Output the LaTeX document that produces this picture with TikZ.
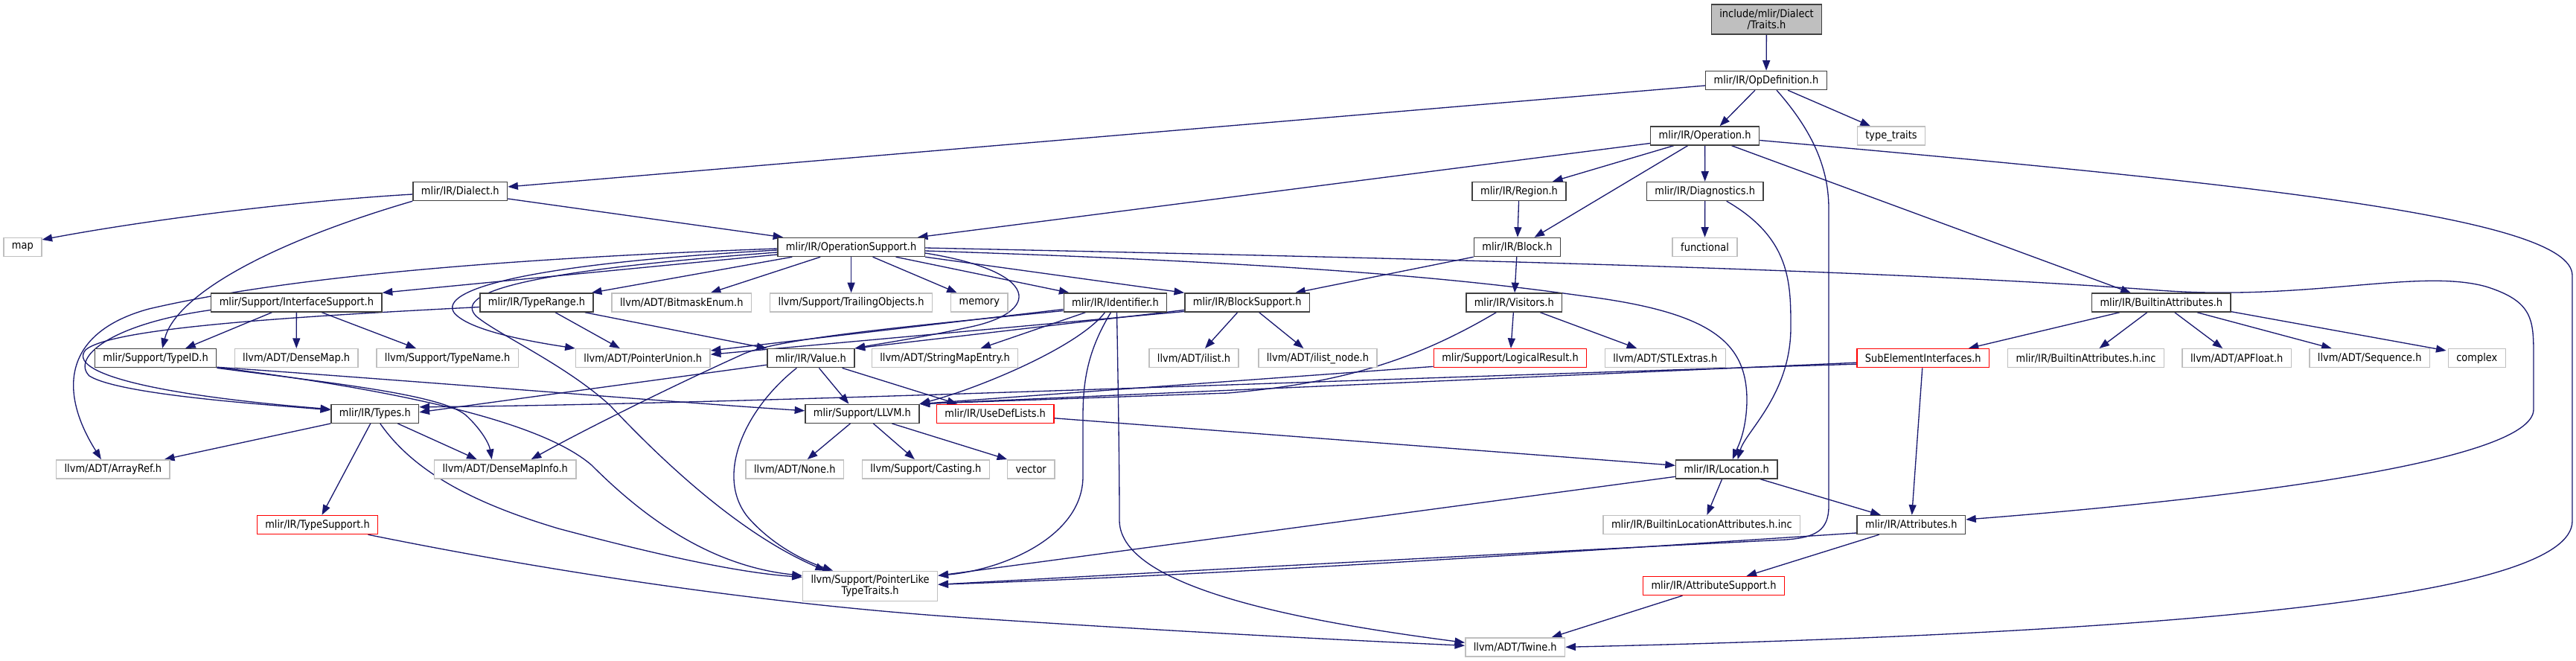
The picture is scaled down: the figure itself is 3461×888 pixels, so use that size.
\documentclass[tikz,border=0pt]{standalone}
\usepackage{fontspec}
\setmainfont{DejaVu Sans}[FakeStretch=0.89]
\usetikzlibrary{arrows.meta,calc}
\pgfdeclarelayer{bglayer}
\pgfdeclarelayer{edgelayer}
\pgfsetlayers{bglayer,edgelayer,main}
\definecolor{edgec}{HTML}{191970}
\definecolor{greyb}{HTML}{BFBFBF}
\definecolor{boxc}{HTML}{404040}
\definecolor{redc}{HTML}{FF0000}
\tikzset{
  x=0.25pt, y=-0.25pt,
  box/.style={draw=boxc, line width=0.35pt, fill=white, text=black, font=\fontsize{3.65pt}{3.83pt}\selectfont, inner xsep=2.75pt, inner ysep=0pt, minimum height=6.25pt},
  gbox/.style={box, draw=greyb},
  rbox/.style={box, draw=redc},
  tbox/.style={box, fill=greyb, align=center, minimum height=10pt},
  e/.style={draw=edgec, line width=0.33pt, -{Triangle[length=3.4pt,width=2.5pt]}},
}
\begin{document}
\begin{tikzpicture}
\useasboundingbox (0,0) rectangle (3461,888);
\begin{pgfonlayer}{bglayer}
\fill[white] (0,0) rectangle (3461,888);
\end{pgfonlayer}
% ---------- nodes ----------
\node[tbox] (traits) at (2373.5,26) {include/mlir/Dialect\\/Traits.h};
\node[box] (opdef) at (2373,108) {mlir/IR/OpDefinition.h};
\node[box] (op) at (2290.6,182.5) {mlir/IR/Operation.h};
\node[gbox] (typetraits) at (2541,182.5) {type\_traits};
\node[box] (dialect) at (618.3,257) {mlir/IR/Dialect.h};
\node[box] (region) at (2041,257) {mlir/IR/Region.h};
\node[box] (diag) at (2290.7,257) {mlir/IR/Diagnostics.h};
\node[gbox] (map) at (30.4,332) {map};
\node[box] (opsupport) at (1143.6,332) {mlir/IR/OperationSupport.h};
\node[box] (block) at (2038.5,332) {mlir/IR/Block.h};
\node[gbox] (functional) at (2290.5,332) {functional};
\node[box] (ifsupport) at (398.4,406.5) {mlir/Support/InterfaceSupport.h};
\node[box] (typerange) at (721,406.5) {mlir/IR/TypeRange.h};
\node[gbox] (bitmask) at (915.8,406.5) {llvm/ADT/BitmaskEnum.h};
\node[gbox] (trailing) at (1143.6,406.5) {llvm/Support/TrailingObjects.h};
\node[gbox] (memory) at (1315.8,406.5) {memory};
\node[box] (identifier) at (1498.5,406.5) {mlir/IR/Identifier.h};
\node[box] (blocksupport) at (1675.7,406.5) {mlir/IR/BlockSupport.h};
\node[box] (visitors) at (2034.3,406.5) {mlir/IR/Visitors.h};
\node[box] (builtinattr) at (2903.8,406.5) {mlir/IR/BuiltinAttributes.h};
\node[box] (typeid) at (209.1,481.2) {mlir/Support/TypeID.h};
\node[gbox] (densemap) at (398.2,481.2) {llvm/ADT/DenseMap.h};
\node[gbox] (typename) at (601.1,481.2) {llvm/Support/TypeName.h};
\node[gbox] (ptrunion) at (863.8,481.2) {llvm/ADT/PointerUnion.h};
\node[box] (value) at (1089.4,481.2) {mlir/IR/Value.h};
\node[gbox] (stringmap) at (1269.5,481.2) {llvm/ADT/StringMapEntry.h};
\node[gbox] (ilist) at (1604,481.2) {llvm/ADT/ilist.h};
\node[gbox] (ilistnode) at (1770.4,481.2) {llvm/ADT/ilist\_node.h};
\node[rbox] (logical) at (2029,481.2) {mlir/Support/LogicalResult.h};
\node[gbox] (stlextras) at (2237.3,481.2) {llvm/ADT/STLExtras.h};
\node[rbox] (subelem) at (2583.7,481.2) {SubElementInterfaces.h};
\node[gbox] (builtinattrinc) at (2802.5,481.2) {mlir/IR/BuiltinAttributes.h.inc};
\node[gbox] (apfloat) at (3005.2,481.2) {llvm/ADT/APFloat.h};
\node[gbox] (sequence) at (3183.7,481.2) {llvm/ADT/Sequence.h};
\node[gbox] (complex) at (3327.8,481.2) {complex};
\node[box] (types) at (503.8,555.8) {mlir/IR/Types.h};
\node[box] (llvmh) at (1158.4,555.8) {mlir/Support/LLVM.h};
\node[rbox] (usedef) at (1337.2,555.8) {mlir/IR/UseDefLists.h};
\node[gbox] (arrayref) at (151.9,630.3) {llvm/ADT/ArrayRef.h};
\node[gbox] (densemapinfo) at (678.7,630.3) {llvm/ADT/DenseMapInfo.h};
\node[gbox] (none) at (1067.8,630.3) {llvm/ADT/None.h};
\node[gbox] (casting) at (1243.9,630.3) {llvm/Support/Casting.h};
\node[gbox] (vector) at (1385.2,630.3) {vector};
\node[box] (location) at (2319.7,630.3) {mlir/IR/Location.h};
\node[gbox] (bltlocinc) at (2286.4,705) {mlir/IR/BuiltinLocationAttributes.h.inc};
\node[box] (attrs) at (2567.8,705) {mlir/IR/Attributes.h};
\node[rbox] (typesupport) at (426.5,705) {mlir/IR/TypeSupport.h};
\node[gbox, align=center, minimum height=10pt] (ptrlike) at (1169.1,787.3) {llvm/Support/PointerLike\\TypeTraits.h};
\node[rbox] (attrsupport) at (2302.5,787) {mlir/IR/AttributeSupport.h};
\node[gbox] (twine) at (2035.7,869.3) {llvm/ADT/Twine.h};
% ---------- edges ----------
\begin{pgfonlayer}{edgelayer}
\draw[e] (traits) -- (opdef);
\draw[e] ($(opdef.south)+(-15,0)$) -- ($(op.north)+(20,0)$);
\draw[e] ($(opdef.south)+(29,0)$) -- ($(typetraits.north)+(-28,0)$);
\draw[e] ($(opdef.west)+(0,7)$) -- ($(dialect.east)+(0,-6)$);
\draw[e] ($(opdef.south)+(14,0)$) .. controls (2430,170) and (2457,220) .. (2457,280) -- (2457,680) .. controls (2457,712) and (2440,722) .. (2400,725) .. controls (2000,745) and (1500,772) .. ($(ptrlike.east)+(0,-2)$);
\draw[e] ($(op.south)+(-42,0)$) -- ($(region.north)+(45,0)$);
\draw[e] (op) -- (diag);
\draw[e] ($(op.south)+(-23,0)$) -- ($(block.north)+(23,0)$);
\draw[e] ($(op.west)+(0,10)$) -- ($(opsupport.north east)+(-10,0)$);
\draw[e] ($(op.south)+(36,0)$) -- ($(builtinattr.north)+(-41,0)$);
\draw[e] ($(op.east)+(0,6)$) .. controls (3000,245) and (3456,290) .. (3456,370) -- (3456,700) .. controls (3456,800) and (2950,850) .. (twine.east);
\draw[e] ($(dialect.west)+(0,4)$) .. controls (400,270) and (200,295) .. ($(map.east)+(0,-10)$);
\draw[e] ($(dialect.east)+(0,10)$) -- ($(opsupport.north west)+(8,0)$);
\draw[e] (dialect.south west) .. controls (350,330) and (235,400) .. ($(typeid.north)+(9,0)$);
\draw[e] (region) -- (block);
\draw[e] (diag) -- (functional);
\draw[e] ($(diag.south)+(29,0)$) .. controls (2406,320) and (2406,380) .. (2406,440) .. controls (2406,530) and (2345,580) .. ($(location.north)+(15,0)$);
\draw[e] (block.south west) -- ($(blocksupport.north east)+(-20,0)$);
\draw[e] (block) -- (visitors);
\draw[e] ($(opsupport.west)+(0,10)$) -- (ifsupport.north east);
\draw[e] ($(opsupport.south west)+(20,0)$) -- ($(typerange.north east)+(-3,0)$);
\draw[e] ($(opsupport.south west)+(58,0)$) -- ($(bitmask.north)+(39,0)$);
\draw[e] (opsupport) -- (trailing);
\draw[e] ($(opsupport.south)+(29,0)$) -- ($(memory.north)+(-30,0)$);
\draw[e] ($(opsupport.south)+(60,0)$) -- ($(identifier.north)+(-62,0)$);
\draw[e] (opsupport.south east) -- (blocksupport.north west);
\draw[e] ($(opsupport.west)+(0,4)$) .. controls (700,355) and (590,390) .. (610,420) .. controls (630,445) and (720,460) .. (ptrunion.north west);
\draw[e] ($(opsupport.west)+(0,7)$) .. controls (690,365) and (610,395) .. (640,425) .. controls (670,450) and (760,490) .. (820,545) .. controls (900,630) and (1000,720) .. ($(ptrlike.north)+(-60,0)$);
\draw[e] ($(opsupport.west)+(0,2)$) .. controls (600,350) and (350,380) .. (200,415) .. controls (90,445) and (75,520) .. ($(arrayref.north)+(-16,0)$);
\draw[e] ($(opsupport.east)+(0,5)$) .. controls (1800,355) and (2000,380) .. (2130,398) .. controls (2300,420) and (2348,460) .. (2347,540) .. controls (2346,580) and (2335,600) .. ($(location.north)+(8,0)$);
\draw[e] ($(opsupport.east)+(0,1)$) .. controls (1800,345) and (2500,360) .. (2900,390) .. controls (3100,405) and (3250,360) .. (3340,385) .. controls (3404,405) and (3404,430) .. (3404,480) -- (3404,550) .. controls (3404,620) and (3000,670) .. ($(attrs.east)+(0,-7)$);
\draw[e] ($(opsupport.east)+(0,8)$) .. controls (1400,365) and (1400,420) .. (1300,440) .. controls (1230,455) and (1180,462) .. (value.north east);
\draw[e] ($(typerange.south)+(25,0)$) -- ($(ptrunion.north)+(-31,0)$);
\draw[e] ($(typerange.south east)+(-12,0)$) -- (value.north west);
\draw[e] ($(typerange.west)+(0,6)$) .. controls (400,425) and (150,440) .. (115,470) .. controls (90,500) and (200,530) .. ($(types.west)+(0,-6)$);
\draw[e] ($(ifsupport.west)+(0,10)$) .. controls (150,435) and (95,480) .. (120,505) .. controls (160,530) and (350,543) .. ($(types.west)+(0,-5)$);
\draw[e] ($(ifsupport.south)+(-33,0)$) -- ($(typeid.north)+(40,0)$);
\draw[e] (ifsupport) -- (densemap);
\draw[e] ($(ifsupport.south)+(34,0)$) -- ($(typename.north)+(-42,0)$);
\draw[e] ($(identifier.west)+(0,9)$) -- ($(ptrunion.north east)+(0,3)$);
\draw[e] ($(blocksupport.west)+(0,12)$) -- ($(ptrunion.east)+(0,-5)$);
\draw[e] ($(identifier.west)+(0,11)$) .. controls (1200,440) and (1050,455) .. (1000,475) .. controls (900,520) and (780,580) .. ($(densemapinfo.north)+(35,0)$);
\draw[e] ($(identifier.south)+(-40,0)$) -- ($(stringmap.north)+(48,0)$);
\draw[e] ($(identifier.south)+(-14,0)$) .. controls (1450,465) and (1320,520) .. (llvmh.north east);
\draw[e] ($(identifier.south)+(-6,0)$) .. controls (1462,470) and (1455,510) .. (1455,560) -- (1455,640) .. controls (1455,720) and (1350,765) .. ($(ptrlike.east)+(0,-14)$);
\draw[e] ($(identifier.south)+(2,0)$) .. controls (1502,500) and (1504,620) .. (1504,700) .. controls (1506,790) and (1750,835) .. ($(twine.west)+(0,-6)$);
\draw[e] ($(blocksupport.south)+(-13,0)$) -- ($(ilist.north)+(15,0)$);
\draw[e] ($(blocksupport.south)+(16,0)$) -- ($(ilistnode.north)+(-19,0)$);
\draw[e] ($(blocksupport.west)+(0,10)$) -- (value.north east);
\draw[e] (visitors) -- (logical);
\draw[e] ($(visitors.south)+(35,0)$) -- ($(stlextras.north)+(-38,0)$);
\draw[e] ($(visitors.south)+(-24,0)$) .. controls (1900,485) and (1800,515) .. (1650,528) -- (llvmh.north east);
\draw[e] ($(logical.south west)+(0,-2)$) -- (llvmh.north east);
\draw[e] ($(subelem.west)+(0,6)$) -- (llvmh.north east);
\draw[e] ($(subelem.west)+(0,8)$) .. controls (1800,510) and (1000,543) .. ($(types.east)+(0,-9)$);
\draw[e] (subelem) -- (attrs);
\draw[e] ($(value.west)+(0,9)$) -- ($(types.east)+(0,-2)$);
\draw[e] ($(value.south)+(11,0)$) -- ($(llvmh.north)+(-18,0)$);
\draw[e] ($(value.south east)+(-17,0)$) -- ($(usedef.north)+(-51,0)$);
\draw[e] ($(value.south)+(-19,0)$) .. controls (1000,550) and (960,640) .. (1005,695) .. controls (1040,735) and (1085,755) .. ($(ptrlike.north)+(-50,0)$);
\draw[e] ($(typeid.east)+(0,12)$) .. controls (600,515) and (900,540) .. ($(llvmh.west)+(0,-4)$);
\draw[e] (typeid.south east) .. controls (450,515) and (590,530) .. (625,557) .. controls (645,575) and (657,595) .. ($(densemapinfo.north)+(-18,0)$);
\draw[e] ($(typeid.south east)+(0,-1)$) .. controls (500,520) and (720,560) .. (795,625) .. controls (860,690) and (950,760) .. ($(ptrlike.west)+(0,-14)$);
\draw[e] (types.south west) -- ($(arrayref.north east)+(-8,0)$);
\draw[e] ($(types.south east)+(-29,0)$) -- ($(densemapinfo.north)+(-38,0)$);
\draw[e] ($(types.south)+(-6,0)$) -- ($(typesupport.north)+(6,0)$);
\draw[e] ($(types.south)+(7,0)$) .. controls (560,640) and (650,680) .. (750,710) .. controls (900,750) and (1000,770) .. ($(ptrlike.west)+(0,-12)$);
\draw[e] ($(llvmh.south)+(-16,0)$) -- ($(none.north)+(17,0)$);
\draw[e] ($(llvmh.south)+(15,0)$) -- ($(casting.north)+(-15,0)$);
\draw[e] ($(llvmh.south)+(40,0)$) -- ($(vector.north)+(-32,0)$);
\draw[e] ($(usedef.east)+(0,6)$) -- ($(location.west)+(0,-5)$);
\draw[e] ($(location.south)+(-6,0)$) -- ($(bltlocinc.north)+(7,0)$);
\draw[e] ($(location.south east)+(-24,0)$) -- ($(attrs.north)+(-41,0)$);
\draw[e] ($(location.west)+(0,10)$) -- ($(ptrlike.east)+(0,-14)$);
\draw[e] ($(attrs.south)+(-43,0)$) -- ($(attrsupport.north)+(44,0)$);
\draw[e] ($(attrs.west)+(0,11)$) .. controls (2200,735) and (1700,770) .. ($(ptrlike.east)+(0,-2)$);
\draw[e] ($(attrsupport.south)+(-42,0)$) -- ($(twine.north)+(49,0)$);
\draw[e] ($(typesupport.south east)+(-14,0)$) .. controls (700,760) and (1000,810) .. (1300,830) .. controls (1600,850) and (1850,862) .. ($(twine.west)+(0,-2)$);
\draw[e] ($(builtinattr.south)+(-56,0)$) -- ($(subelem.north)+(61,0)$);
\draw[e] ($(builtinattr.south)+(-19,0)$) -- ($(builtinattrinc.north)+(18,0)$);
\draw[e] ($(builtinattr.south)+(18,0)$) -- ($(apfloat.north)+(-19,0)$);
\draw[e] ($(builtinattr.south)+(48,0)$) -- ($(sequence.north)+(-51,0)$);
\draw[e] ($(builtinattr.south east)+(0,-1)$) -- ($(complex.north west)+(-2,3)$);
\end{pgfonlayer}
\end{tikzpicture}
\end{document}
